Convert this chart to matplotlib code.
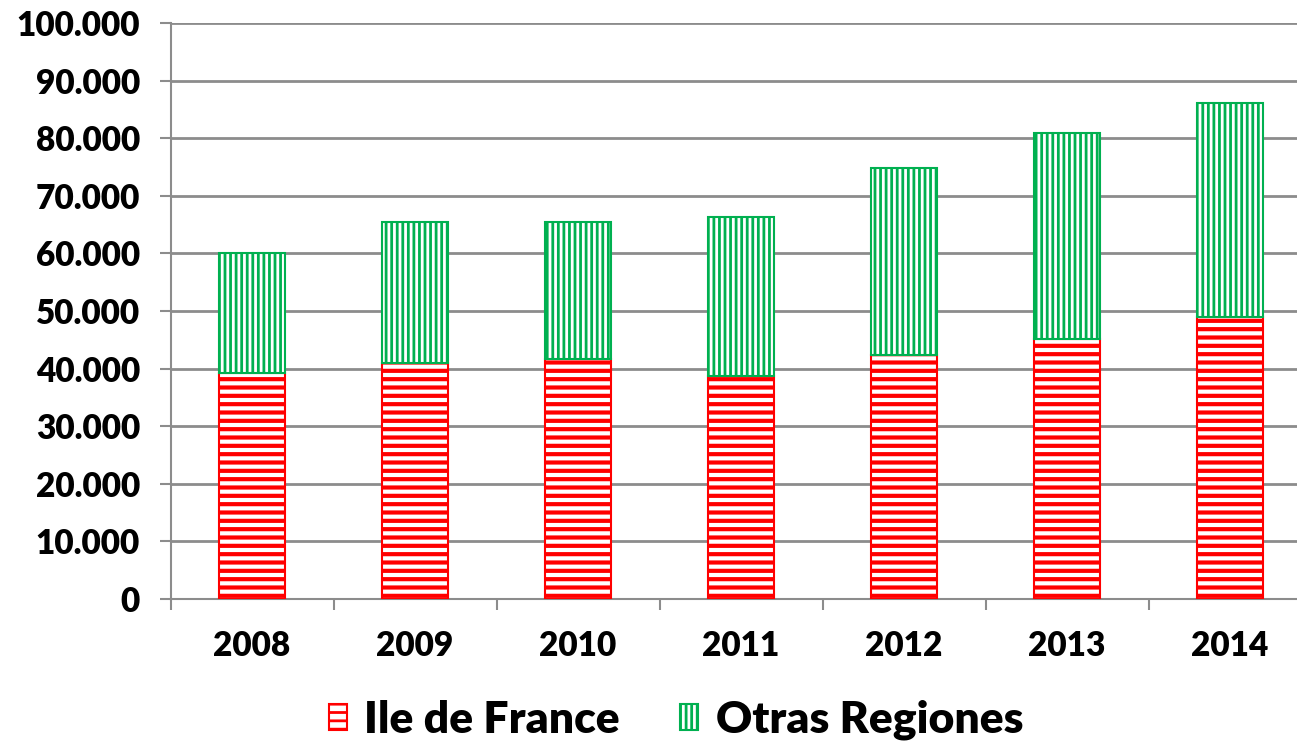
import numpy as np
import matplotlib.pyplot as plt
from matplotlib.ticker import FuncFormatter

years = ['2008', '2009', '2010', '2011', '2012', '2013', '2014']
ile_de_france = [39200, 41000, 41700, 38700, 42300, 45200, 49000]
otras_regiones = [20900, 24500, 23800, 27600, 32600, 35700, 37100]

RED = '#FF0000'
GREEN = '#00B050'
GRID = '#8C8C8C'

plt.rcParams['font.family'] = ['Lato', 'DejaVu Sans']
plt.rcParams['font.weight'] = 'heavy'

fig = plt.figure(figsize=(12.97, 7.44), dpi=100)
ax = fig.add_axes([170.5 / 1297, 145 / 744, 1141 / 1297, 576 / 744])

x = np.arange(len(years))
width = 0.40

plt.rcParams['hatch.linewidth'] = 3.0
plt.rcParams['hatch.color'] = RED
b1 = ax.bar(x, ile_de_france, width, color='white', edgecolor=RED, linewidth=1.5,
            hatch='--', label='Ile de France', zorder=3)
plt.rcParams['hatch.linewidth'] = 2.0
plt.rcParams['hatch.color'] = GREEN
b2 = ax.bar(x, otras_regiones, width, bottom=ile_de_france, color='white', edgecolor=GREEN,
            linewidth=1.5, hatch='|||', label='Otras Regiones', zorder=3)
for p in b1:
    try:
        p.set_hatch_linewidth(3.0)
    except AttributeError:
        pass
for p in b2:
    try:
        p.set_hatch_linewidth(2.0)
    except AttributeError:
        pass

ax.set_xlim(-0.5, len(years) - 0.5)
ax.set_ylim(0, 100000)
ax.set_yticks(np.arange(0, 100001, 10000))
ax.yaxis.set_major_formatter(FuncFormatter(lambda v, p: f'{int(v):,}'.replace(',', '.')))
ax.set_xticks(x)
ax.set_xticklabels(years)
ax.set_xticks(np.arange(-0.5, len(years), 1), minor=True)

ax.grid(axis='y', color=GRID, linewidth=2, zorder=0)
ax.set_axisbelow(True)
for s in ['top', 'right']:
    ax.spines[s].set_visible(False)
for s in ['left', 'bottom']:
    ax.spines[s].set_color(GRID)
    ax.spines[s].set_linewidth(1.5)

ax.tick_params(axis='y', labelsize=24, length=8, width=1.5, color=GRID, pad=14)
ax.tick_params(axis='x', which='major', labelsize=24, length=0, pad=22)
ax.tick_params(axis='x', which='minor', length=8, width=1.5, color=GRID)

fig.legend(handles=[b1, b2], labels=['Ile de France', 'Otras Regiones'],
           loc='center', bbox_to_anchor=(676 / 1297, 1 - 720 / 744), ncol=2, frameon=False,
           fontsize=32, handlelength=0.4, handleheight=0.55, handletextpad=0.4,
           columnspacing=1.35)

fig.savefig('out.png', dpi=100)
